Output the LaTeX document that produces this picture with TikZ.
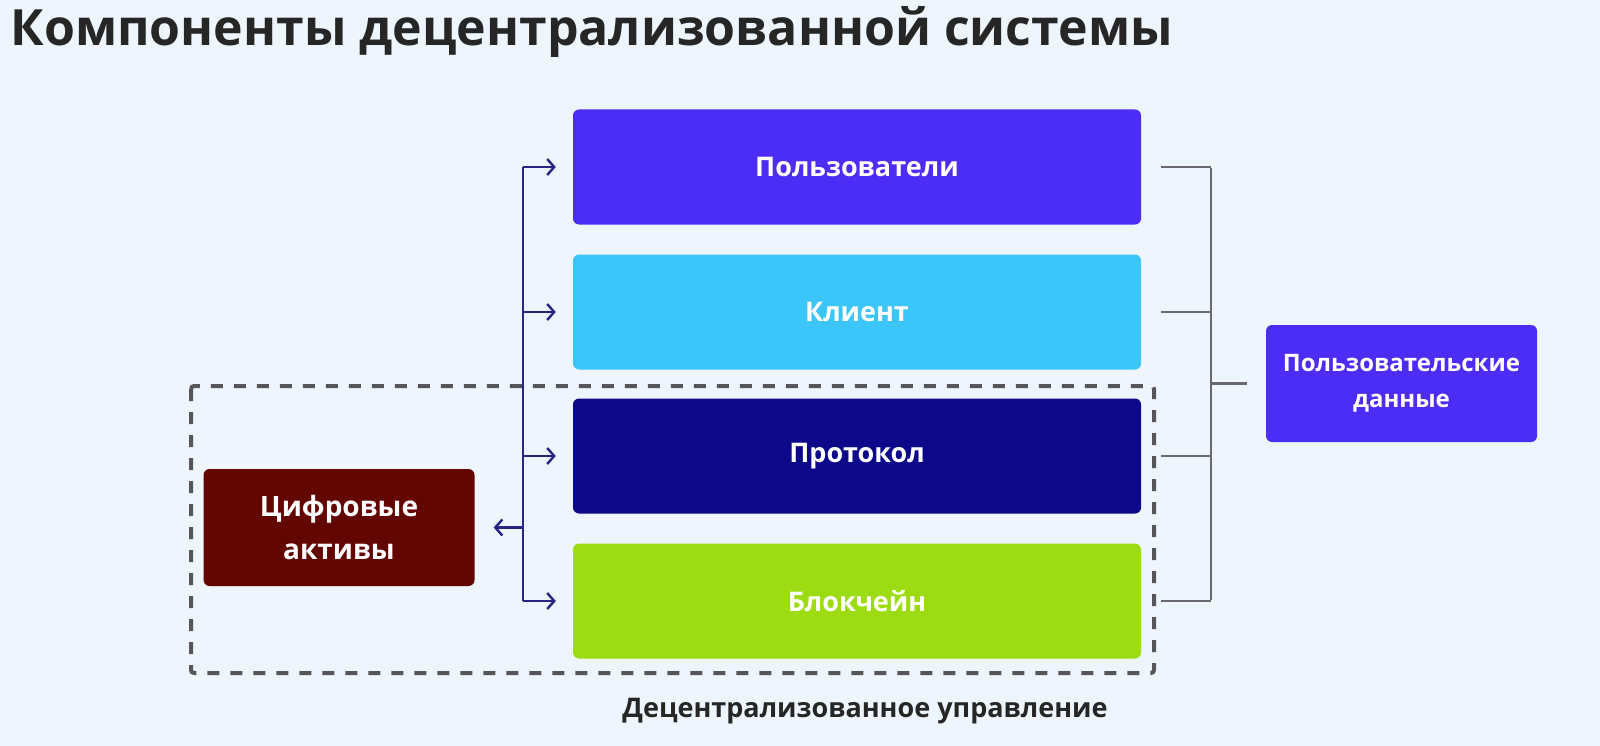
\documentclass[tikz,border=0pt]{standalone}
\usepackage{fontspec}
\setmainfont{Open Sans}
\usepackage{xcolor}
\definecolor{pageBg}{RGB}{238,245,252}
\definecolor{userBlue}{RGB}{76,45,245}
\definecolor{clientBlue}{RGB}{60,197,248}
\definecolor{protoNavy}{RGB}{13,8,138}
\definecolor{chainLime}{RGB}{157,220,18}
\definecolor{assetRed}{RGB}{100,6,0}
\definecolor{flowNavy}{RGB}{40,36,130}
\definecolor{lineGray}{RGB}{105,105,110}
\definecolor{dashGray}{RGB}{85,85,90}
\definecolor{titleGray}{RGB}{38,38,38}
\usepackage{tikz}
\usetikzlibrary{arrows.meta,positioning,calc}
\tikzstyle{layer}=[rounded corners=6pt, minimum width=568pt, minimum height=115pt, text=white, font=\fontsize{27}{32}\selectfont\bfseries]
\tikzstyle{sidebox}=[rounded corners=6pt, minimum width=271pt, minimum height=117pt, text=white, align=center, font=\fontsize{24}{36}\selectfont\bfseries]
\tikzstyle{flow}=[draw=flowNavy, line width=2.4pt, -{Straight Barb[length=7pt,width=16pt,line width=2.4pt]}]
\tikzstyle{link}=[draw=lineGray, line width=2.5pt]
\tikzstyle{govframe}=[draw=dashGray, line width=4pt, dash pattern=on 12pt off 11pt, rounded corners=3pt]

\begin{document}
\begin{tikzpicture}[x=1pt,y=-1pt]
        \fill[pageBg] (0,0) rectangle (1600,746);
        \useasboundingbox (0,0) rectangle (1600,746);
        \node[anchor=base west, text=titleGray, font=\fontsize{50}{60}\selectfont\bfseries] (title) at (7,46) {Компоненты децентрализованной системы};
        \draw[govframe] (191,386) rectangle (1154,673);
        \node[text=titleGray, anchor=base, font=\fontsize{27}{32}\selectfont\bfseries] (govlabel) at (865,717) {Децентрализованное управление};
        \foreach \name/\txt/\col/\y in {users/Пользователи/userBlue/167,client/Клиент/clientBlue/312,proto/Протокол/protoNavy/456,chain/Блокчейн/chainLime/601}{
          \node[layer, fill=\col] (\name) at (857,\y) {\txt};
        }
        \node[sidebox, fill=assetRed, font=\fontsize{28}{43}\selectfont\bfseries] (assets) at (339,527.5) {Цифровые\\активы};
        \node[sidebox, fill=userBlue] (data) at (1401.5,383.5) {Пользовательские\\данные};
        % left spine with arrows
        \coordinate (spine) at (523,0);
        \draw[flow, -] (spine |- users) -- (spine |- chain);
        \foreach \name in {users,client,proto,chain}{
          \draw[flow, shorten >=17pt] (spine |- \name) -- (\name.west);
        }
        \draw[flow, shorten >=19pt] (spine |- assets.east) -- (assets.east);
        % right bus
        \coordinate (bus) at (1211,0);
        \foreach \name in {users,client,proto,chain}{
          \draw[link] ([xshift=20pt]\name.east) -- (bus |- \name);
        }
        \draw[link] ([yshift=-1.25pt]bus |- users) -- ([yshift=1.25pt]bus |- chain);
        \draw[link] (bus |- data) -- ([xshift=-19pt]data.west);
      \end{tikzpicture}
\end{document}
